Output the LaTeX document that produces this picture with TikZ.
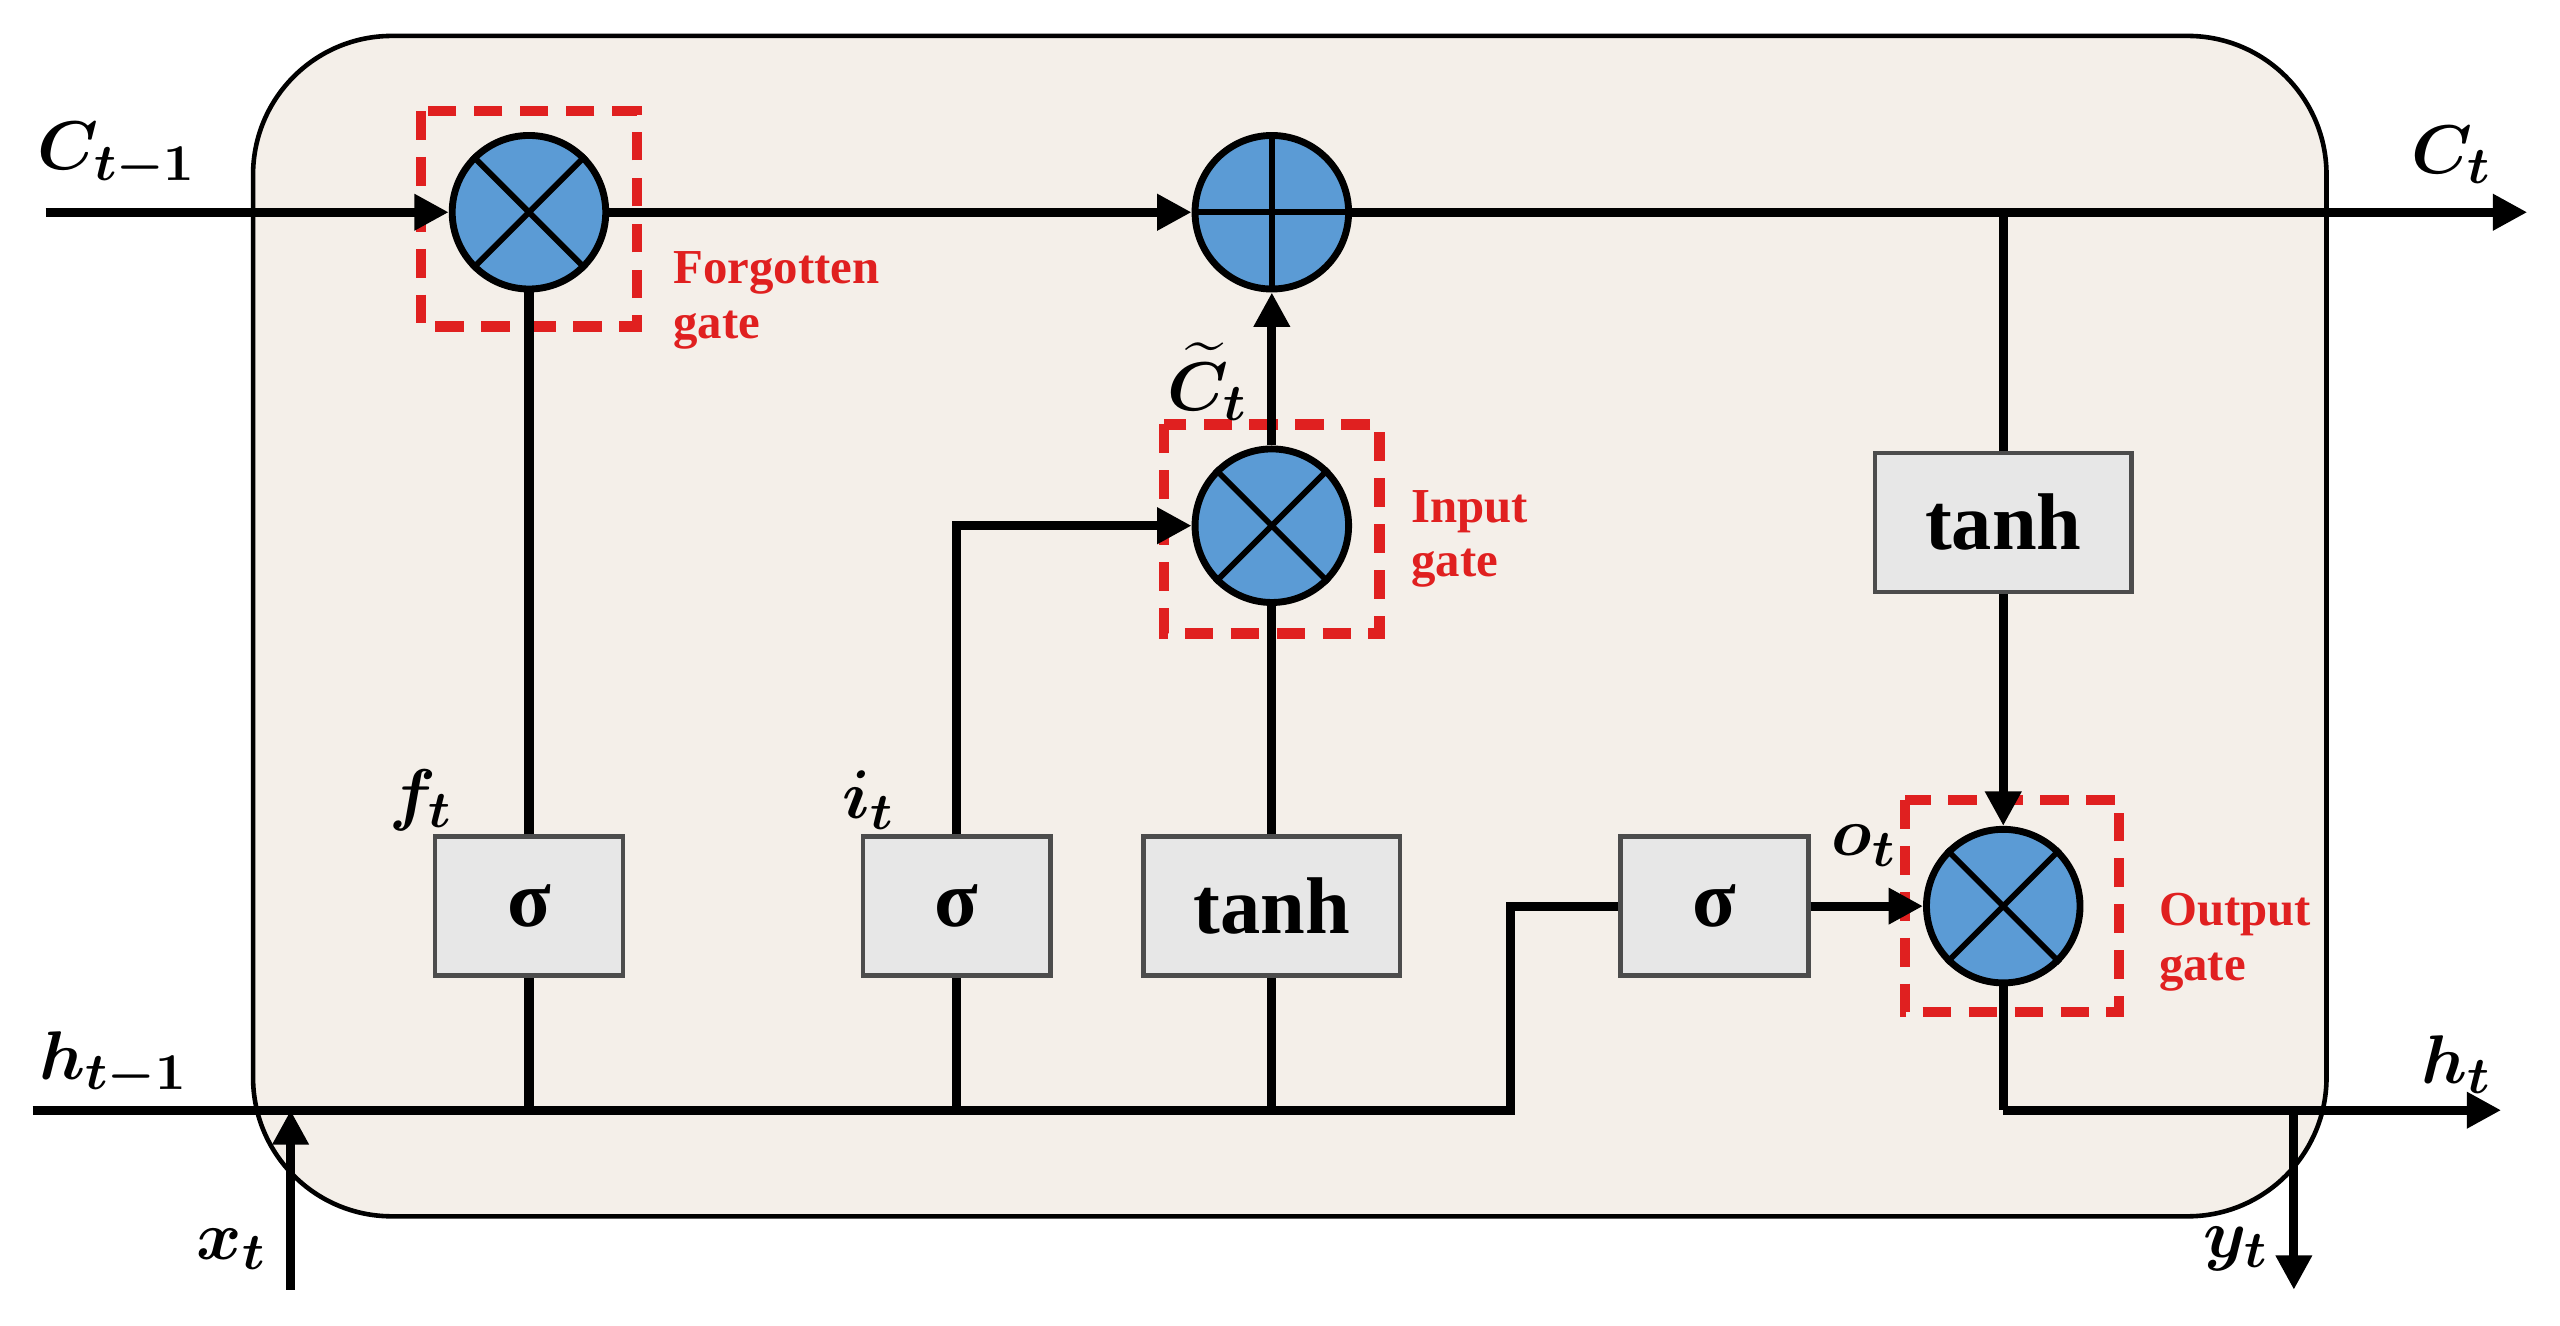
\documentclass[tikz,border=0pt]{standalone}
\usepackage{amsmath}
\usepackage{bm}
\usepackage{fontspec}
\setmainfont{Liberation Serif}
\usetikzlibrary{arrows.meta}
\definecolor{cellbg}{HTML}{F4EFE9}
\definecolor{gateblue}{HTML}{5B9BD5}
\definecolor{boxgray}{HTML}{E7E7E7}
\definecolor{gatered}{HTML}{E02020}
\tikzset{
  line/.style={line width=1.6pt, black},
  arr/.style={line width=1.6pt, -{Triangle[length=6pt,width=6pt]}},
  op/.style={circle, draw=black, line width=1.2pt, fill=gateblue, minimum size=0.94cm, inner sep=0pt},
  fn/.style={draw=black!70, line width=0.8pt, fill=boxgray, minimum width=1.15cm, minimum height=0.85cm, font=\bfseries\fontsize{14}{14}\selectfont},
  fnw/.style={fn, minimum width=1.57cm},
  gatebox/.style={draw=gatered, line width=1.8pt, dash pattern=on 5pt off 3pt},
  redlbl/.style={text=gatered, font=\bfseries\fontsize{8.5}{9.5}\selectfont, align=left, anchor=west},
  var/.style={font=\fontsize{13}{13}\selectfont}
}
\begin{document}
\begin{tikzpicture}[x=0.01cm, y=-0.01cm]
\useasboundingbox (0,0) rectangle (1568,812);
% cell body
\draw[fill=cellbg, draw=black, line width=0.8pt, rounded corners=0.85cm] (155,22) rectangle (1425,745);

% operators
\node[op] (fg) at (324,130) {};
\node[op] (pl) at (779,130) {};
\node[op] (ig) at (779,322) {};
\node[op] (og) at (1227,555) {};
\foreach \n in {fg,ig,og}{
  \draw[line width=1pt] (\n.45) -- (\n.225) (\n.135) -- (\n.315);
}
\draw[line width=1pt] (pl.north) -- (pl.south) (pl.west) -- (pl.east);

% gate boxes
\draw[gatebox] (258,68) rectangle (390,200);
\draw[gatebox] (713,260) rectangle (845,388);
\draw[gatebox] (1167,490) rectangle (1298,620);

% function boxes
\node[fn] (sf) at (324,555) {σ};
\node[fn] (si) at (586,555) {σ};
\node[fnw] (tc) at (779,555) {tanh};
\node[fn] (so) at (1050,555) {σ};
\node[fnw] (th) at (1227,320) {tanh};

% coordinates
\coordinate (cin) at (28,130);
\coordinate (cout) at (1548,130);
\coordinate (hin) at (20,680);
\coordinate (hout) at (1532,680);
\coordinate (xin) at (178,790);
\coordinate (yout) at (1405,790);
\coordinate (hf) at (324,680);
\coordinate (hi) at (586,680);
\coordinate (hc) at (779,680);
\coordinate (hk) at (925,680);
\coordinate (hk2) at (925,555);
\coordinate (cj) at (1227,130);
\coordinate (ok) at (1227,680);
\coordinate (xj) at (178,680);
\coordinate (yj) at (1405,680);

% cell state
\draw[arr] (cin) -- (fg.west);
\draw[arr] (fg.east) -- (pl.west);
\draw[arr] (pl.east) -- (cout);
\draw[line] (cj) -- (th.north);
\draw[arr] (th.south) -- (og.north);

% hidden line
\draw[line] (hin) -- (hk) -- (hk2) -- (so.west);
\draw[line] (hf) -- (sf.south);
\draw[line] (hi) -- (si.south);
\draw[line] (hc) -- (tc.south);
\draw[line] (sf.north) -- (fg.south);
\draw[arr] (si.north) |- (ig.west);
\draw[line] (tc.north) -- (ig.south);
\draw[arr] (ig.north) -- (pl.south);
\draw[arr] (so.east) -- (og.west);
\draw[line] (og.south) -- (ok);
\draw[arr] (ok) -- (hout);
\draw[arr] (xin) -- (xj);
\draw[arr] (yj) -- (yout);

% labels
\node[var] (lc0) at (72,95) {$\bm{C_{t-1}}$};
\node[var] (lc1) at (1502,95) {$\bm{C_t}$};
\node[var] (lh0) at (70,652) {$\bm{h_{t-1}}$};
\node[var] (lh1) at (1505,652) {$\bm{h_t}$};
\node[var] (lx) at (142,765) {$\bm{x_t}$};
\node[var] (ly) at (1370,765) {$\bm{y_t}$};
\node[var] (lf) at (258,490) {$\bm{f_t}$};
\node[var] (li) at (532,490) {$\bm{i_t}$};
\node[var] (lo) at (1142,518) {$\bm{o_t}$};
\node[var] (lct) at (740,234) {$\bm{\widetilde{C}_t}$};
\node[redlbl] (rf) at (400,184) {Forgotten\\gate};
\node[redlbl] (ri) at (852,330) {Input\\gate};
\node[redlbl] (ro) at (1310,577) {Output\\gate};
\end{tikzpicture}
\end{document}
